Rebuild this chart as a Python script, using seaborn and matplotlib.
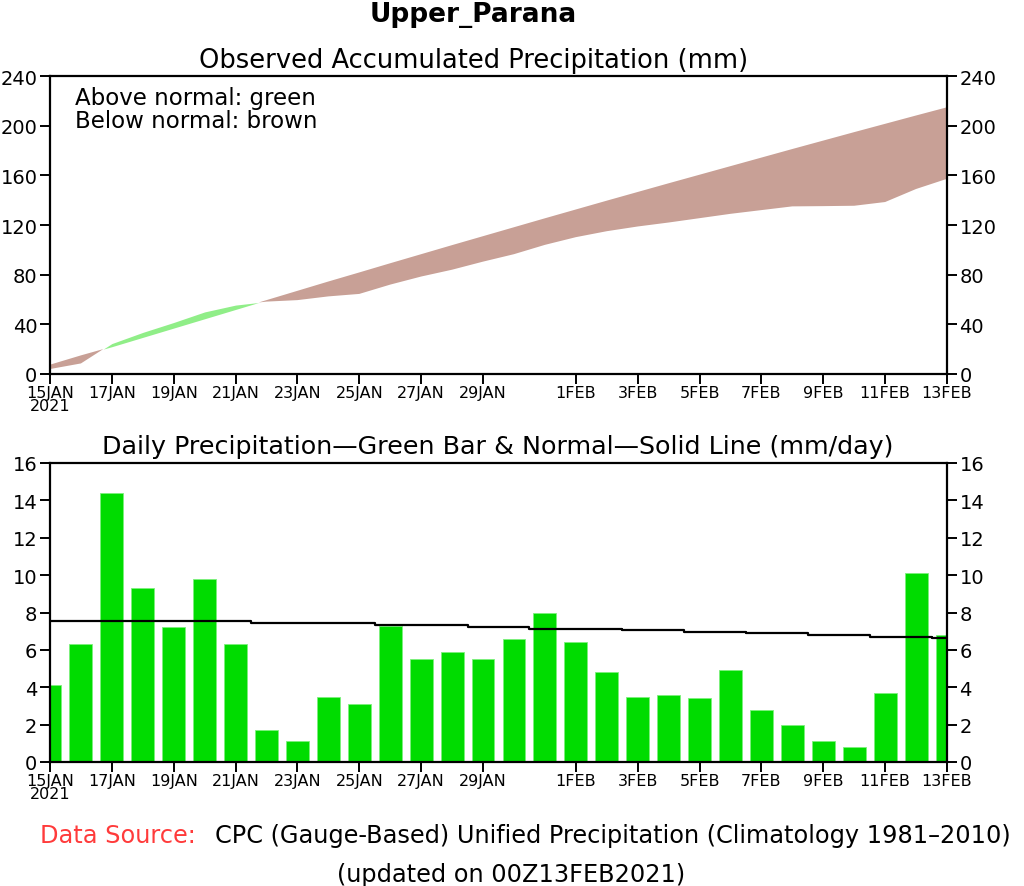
import numpy as np
import matplotlib
matplotlib.use("Agg")
import matplotlib.pyplot as plt
import seaborn as sns

sns.set_style("ticks")
plt.rcParams['font.family'] = ['DejaVu Sans']
plt.rcParams['text.color'] = 'black'
plt.rcParams['xtick.color'] = 'black'
plt.rcParams['ytick.color'] = 'black'
plt.rcParams['axes.labelcolor'] = 'black'

# days since 15JAN2021
days = list(range(30))

# daily observed precipitation (mm/day)
daily_obs = [4.1, 6.3, 14.4, 9.3, 7.2, 9.8, 6.3, 1.7, 1.1, 3.5,
             3.1, 7.3, 5.5, 5.9, 5.5, 6.6, 8.0, 6.4, 4.8, 3.5,
             3.6, 3.4, 4.9, 2.8, 2.0, 1.1, 0.8, 3.7, 10.1, 6.8]

# daily normal (mm/day), the stepped black line
daily_normal = [7.52, 7.52, 7.52, 7.52, 7.52, 7.52, 7.52, 7.45, 7.45, 7.45,
                7.45, 7.34, 7.34, 7.34, 7.25, 7.25, 7.14, 7.14, 7.14, 7.05,
                7.05, 6.96, 6.96, 6.89, 6.89, 6.80, 6.80, 6.70, 6.70, 6.61]

# accumulated observed and normal (mm)
accum_obs = [4.0, 8.5, 24.5, 33.5, 41.5, 50.0, 55.5, 58.3, 59.5, 62.5,
             64.5, 72.0, 78.5, 84.0, 90.5, 96.5, 104.0, 110.2, 115.0, 118.8,
             122.0, 125.5, 129.0, 132.0, 135.0, 135.2, 135.5, 138.5, 149.0, 157.2]
accum_normal = [7.5, 15.0, 22.0, 29.5, 37.0, 44.5, 52.0, 59.5, 67.0, 74.5,
                81.8, 89.2, 96.5, 103.8, 111.0, 118.2, 125.4, 132.5, 139.6, 146.6,
                153.6, 160.5, 167.4, 174.3, 181.2, 188.0, 194.8, 201.5, 208.2, 214.8]

tick_pos = [0, 2, 4, 6, 8, 10, 12, 14, 17, 19, 21, 23, 25, 27, 29]
tick_lab = ['15JAN\n2021', '17JAN', '19JAN', '21JAN', '23JAN', '25JAN', '27JAN', '29JAN',
            '1FEB', '3FEB', '5FEB', '7FEB', '9FEB', '11FEB', '13FEB']

green_fill = '#90ee88'
brown_fill = '#c8a096'
bar_green = '#00dc00'

W, H = 1024, 887
fig = plt.figure(figsize=(W / 100, H / 100), dpi=100)

def axes_px(left, top, right, bottom):
    return fig.add_axes([left / W, 1 - bottom / H, (right - left) / W, (bottom - top) / H])

def style_axes(ax, yticks):
    for sp in ax.spines.values():
        sp.set_visible(True)
        sp.set_linewidth(1.6)
        sp.set_color('black')
    ax.set_xticks(tick_pos)
    ax.set_xticklabels(tick_lab, fontsize=11.5, linespacing=0.85)
    ax.set_yticks(yticks)
    ax.set_yticklabels([str(v) for v in yticks], fontsize=14)
    ax.tick_params(axis='y', left=True, right=True, labelleft=True, labelright=True,
                   direction='out', length=7, width=1.4, pad=2)
    ax.tick_params(axis='x', direction='out', length=7, width=1.4, pad=1)
    ax.set_xlabel('')
    ax.set_ylabel('')

# top panel: accumulated precipitation
ax1 = axes_px(50, 77, 947, 375)
x = np.array(days, dtype=float)
obs = np.array(accum_obs)
nrm = np.array(accum_normal)
ax1.fill_between(x, obs, nrm, where=obs >= nrm, interpolate=True,
                 color=green_fill, linewidth=0)
ax1.fill_between(x, obs, nrm, where=obs < nrm, interpolate=True,
                 color=brown_fill, linewidth=0)
ax1.set_xlim(0, 29)
ax1.set_ylim(0, 240)
style_axes(ax1, [0, 40, 80, 120, 160, 200, 240])
ax1.text(25 / 897, 1 - 10 / 298, 'Above normal: green\nBelow normal: brown', transform=ax1.transAxes,
         fontsize=16.5, va='top', ha='left', linespacing=1.0)

# bottom panel: daily bars and normal line
ax2 = axes_px(50, 464, 947, 763)
sns.barplot(x=days, y=daily_obs, color=bar_green, width=0.74, saturation=1,
            edgecolor='#7cf07c', linewidth=0.6, ax=ax2)
ax2.plot(days, daily_normal, color='black', linewidth=1.6, drawstyle='steps-mid')
ax2.set_xlim(0, 29)
ax2.set_ylim(0, 16)
style_axes(ax2, [0, 2, 4, 6, 8, 10, 12, 14, 16])

# titles and footer
fig.text(473 / W, 1 - 15 / H, 'Upper_Parana', ha='center', va='center',
         fontsize=19, fontweight='bold')
fig.text(474 / W, 1 - 61 / H, 'Observed Accumulated Precipitation (mm)',
         ha='center', va='center', fontsize=18.5)
fig.text(498 / W, 1 - 447 / H, 'Daily Precipitation\u2014Green Bar & Normal\u2014Solid Line (mm/day)',
         ha='center', va='center', fontsize=18.3)
fig.text(40 / W, 1 - 836 / H, 'Data Source:', ha='left', va='center',
         fontsize=17.3, color='#ff3b3b')
fig.text(215 / W, 1 - 836 / H, 'CPC (Gauge-Based) Unified Precipitation (Climatology 1981\u20132010)',
         ha='left', va='center', fontsize=17.3)
fig.text(511 / W, 1 - 875 / H, '(updated on 00Z13FEB2021)', ha='center', va='center',
         fontsize=17.3)

fig.savefig('out.png', dpi=100)
